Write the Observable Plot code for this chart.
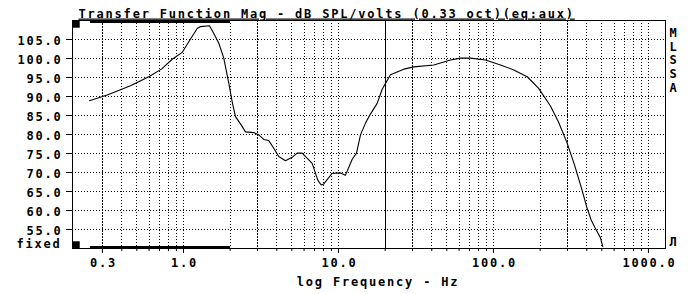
<!DOCTYPE html>
<html><head><meta charset="utf-8">
<script src="https://cdn.jsdelivr.net/npm/d3@7"></script>
<script src="https://cdn.jsdelivr.net/npm/@observablehq/plot@0.6"></script>
<style>
html,body{margin:0;padding:0;background:#fff;}
</style>
</head><body>
<div id="chart"></div>
<script>
const freq = [0.2474,0.3220,0.4550,0.5972,0.7213,0.8457,0.9809,1.082,1.226,1.287,1.472,1.569,1.690,1.820,1.960,2.062,2.165,2.332,2.512,2.841,3.060,3.297,3.550,3.824,4.119,4.550,5.026,5.415,5.832,6.434,6.767,7.354,7.734,8.039,9.108,10.30,11.10,12.26,13.07,13.87,14.94,15.92,17.77,19.14,21.65,26.38,30.60,41.19,52.80,61.24,71.07,88.80,111.0,135.2,165.0,195.1,233.2,262.7,297.2,333.2,369.7,399.9,426.9,459.8,490.1,507.3];
const db = [88.9,90.4,92.8,95.2,97.2,99.8,101.6,104.4,107.9,108.4,108.6,106.6,104.0,100.1,93.5,88.6,84.7,82.8,80.7,80.5,79.9,78.7,78.4,76.4,74.2,73.1,74.0,75.1,75.1,73.3,72.4,68.0,66.7,67.0,69.8,69.9,69.3,73.5,75.1,79.9,83.0,85.1,88.2,91.9,95.7,97.2,97.8,98.3,99.6,100.1,100.1,99.6,98.3,97.0,95.2,92.2,87.5,83.3,78.0,72.0,65.9,60.9,57.5,54.9,52.8,50.5];

const yTicks = [55,60,65,70,75,80,85,90,95,100,105];
const xLabelTicks = [0.3,1,10,100,1000];
const xGridFreqs = [0.3,0.4,0.5,0.6,0.7,0.8,0.9,1,2,3,4,5,6,7,8,9,10,20,30,40,50,60,70,80,90,100,200,300,400,500,600,700,800,900,1000];
const heavyGridFreqs = [0.3,3,30,300];
const cursorFreq = [20];
const bandFreqs = [0.25, 2.0];
const xDomain = [0.1923, 1288];
const yDomain = [50, 110];
const titleText = "Transfer Function Mag - dB SPL/volts (0.33 oct)(eq:aux)";
const xAxisLabel = "log Frequency - Hz";
const yBottomLabel = "fixed";
const sideLabel = ["M","L","S","S","A"];
const pulseLabel = "Л";

const data = freq.map((f, i) => ({f, db: db[i]}));
const normalGrid = xGridFreqs.filter(f => !heavyGridFreqs.includes(f));

const chart = Plot.plot({
  width: 688,
  height: 294,
  marginLeft: 72,
  marginRight: 23,
  marginTop: 20,
  marginBottom: 46,
  style: {background: "white", color: "black", fontFamily: "'DejaVu Sans Mono', monospace", fontWeight: "bold", fontSize: "12px", letterSpacing: "1.8px"},
  x: {type: "log", domain: xDomain, axis: null},
  y: {domain: yDomain, axis: null},
  marks: [
    Plot.ruleY(yTicks, {stroke: "black", strokeDasharray: "1,2", shapeRendering: "crispEdges"}),
    Plot.ruleX(normalGrid, {stroke: "black", strokeDasharray: "1,2", shapeRendering: "crispEdges"}),
    Plot.ruleX(heavyGridFreqs, {stroke: "black", strokeDasharray: "2,1", shapeRendering: "crispEdges"}),
    Plot.ruleX(cursorFreq, {stroke: "black", shapeRendering: "crispEdges"}),
    Plot.frame({stroke: "black", shapeRendering: "crispEdges"}),
    Plot.ruleY([yDomain[1]], {x1: bandFreqs[0], x2: bandFreqs[1], stroke: "black", strokeWidth: 3, dy: 1, shapeRendering: "crispEdges"}),
    Plot.ruleY([yDomain[0]], {x1: bandFreqs[0], x2: bandFreqs[1], stroke: "black", strokeWidth: 3, dy: -1, shapeRendering: "crispEdges"}),
    Plot.dot([0], {frameAnchor: "top-left", symbol: "square", r: 4.2, fill: "black", dx: 3.5, dy: 3.5}),
    Plot.dot([0], {frameAnchor: "bottom-left", symbol: "square", r: 4.2, fill: "black", dx: 3.5, dy: -3.5}),
    Plot.line(data, {x: "f", y: "db", stroke: "black", strokeWidth: 1.1}),
    Plot.axisY(yTicks, {tickSize: 6, fill: "none", label: null, stroke: "black"}),
    Plot.axisX(xGridFreqs, {tickSize: 3, fill: "none", label: null, stroke: "black"}),
    Plot.axisX(xLabelTicks, {tickSize: 5, fill: "none", label: null, stroke: "black"}),
    Plot.text(yTicks, {y: d => d, text: d => d.toFixed(1), frameAnchor: "left", textAnchor: "end", dx: -10, dy: 1.5, fill: "black"}),
    Plot.text(xLabelTicks, {x: d => d, text: d => d.toFixed(1), frameAnchor: "bottom", dy: 18.5, dx: 1, fill: "black"}),
    Plot.text([yBottomLabel], {text: d => d, frameAnchor: "bottom-left", textAnchor: "end", dx: -11, dy: -0.5, fill: "black"}),
    Plot.text([titleText], {text: d => d, frameAnchor: "top-left", textAnchor: "start", dx: 6, dy: -11.5, fill: "black"}),
    Plot.text([xAxisLabel], {text: d => d, frameAnchor: "bottom", dx: 9, dy: 37, fill: "black"}),
    Plot.text([sideLabel.join("\n")], {text: d => d, frameAnchor: "top-right", textAnchor: "middle", lineAnchor: "top", lineHeight: 1.133, dx: 8.5, dy: 7, fill: "black"}),
    Plot.text([pulseLabel], {text: d => d, frameAnchor: "bottom-right", textAnchor: "middle", dx: 8.5, dy: -3, fill: "black"})
  ]
});
document.getElementById("chart").appendChild(chart);
d3.select(chart).selectAll("text").filter(function() { return this.textContent === titleText; }).style("text-decoration", "underline");
</script>
</body></html>
